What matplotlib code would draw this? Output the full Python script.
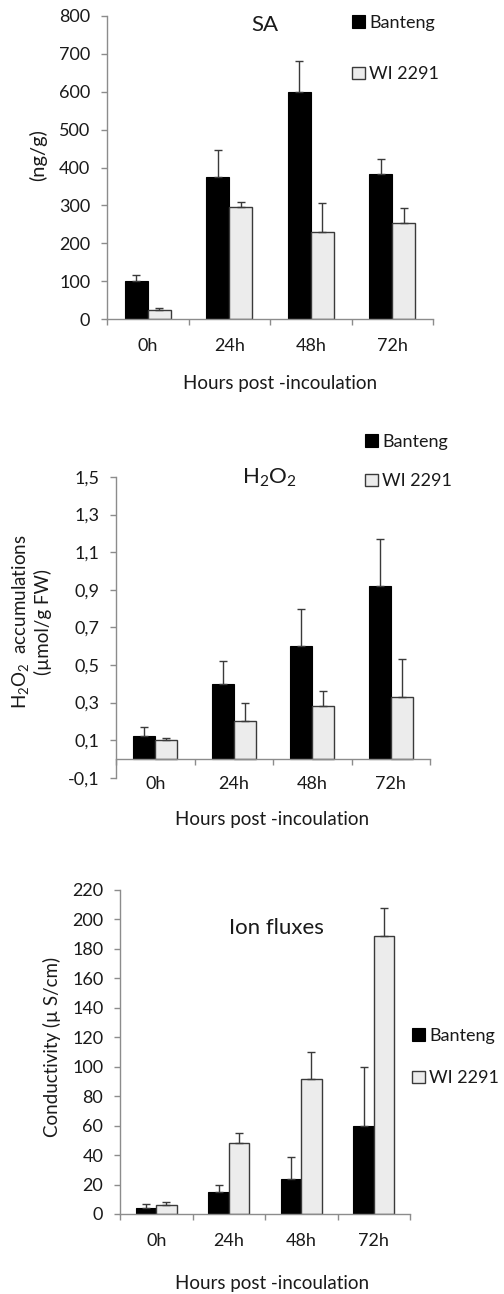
import matplotlib
matplotlib.use("Agg")
import matplotlib.pyplot as plt
from matplotlib.patches import Patch
import numpy as np

plt.rcParams['font.family'] = ['Lato', 'DejaVu Sans']
plt.rcParams['mathtext.fontset'] = 'custom'
plt.rcParams['mathtext.rm'] = 'Lato'
plt.rcParams['mathtext.it'] = 'Lato:italic'
plt.rcParams['mathtext.bf'] = 'Lato:bold'

categories = ["0h", "24h", "48h", "72h"]
series = ["Banteng", "WI 2291"]

sa_banteng = [100, 375, 600, 382]
sa_banteng_err = [17, 70, 80, 41]
sa_wi = [25, 297, 230, 253]
sa_wi_err = [5, 13, 77, 40]
sa_yticks = [0, 100, 200, 300, 400, 500, 600, 700, 800]

h2o2_banteng = [0.12, 0.40, 0.60, 0.92]
h2o2_banteng_err = [0.05, 0.12, 0.20, 0.25]
h2o2_wi = [0.10, 0.20, 0.28, 0.33]
h2o2_wi_err = [0.01, 0.10, 0.08, 0.20]
h2o2_yticks = [-0.1, 0.1, 0.3, 0.5, 0.7, 0.9, 1.1, 1.3, 1.5]
h2o2_yticklabels = ["-0,1", "0,1", "0,3", "0,5", "0,7", "0,9", "1,1", "1,3", "1,5"]

ion_banteng = [4, 15, 24, 60]
ion_banteng_err = [3, 5, 15, 40]
ion_wi = [6, 48, 92, 189]
ion_wi_err = [2, 7, 18, 19]
ion_yticks = [0, 20, 40, 60, 80, 100, 120, 140, 160, 180, 200, 220]

W, H = 504, 1294
fig = plt.figure(figsize=(W / 100, H / 100), dpi=100)

BLACK = "#000000"
LIGHT = "#ececec"
EDGE = "#3a3a3a"
AXC = "#8c8c8c"
TXT = "#1a1a1a"
FS_TICK = 13
FS_LAB = 13.5
FS_TITLE = 16
FS_LEG = 13


def px_rect(l, r, top, bot):
    return [l / W, 1 - bot / H, (r - l) / W, (bot - top) / H]


def draw_panel(rect, b, be, w, we, yticks, yticklabels, ylim, base0=False):
    ax = fig.add_axes(rect)
    x = np.arange(len(categories))
    bw = 0.28
    ax.bar(x - bw / 2, b, bw, color=BLACK, edgecolor=BLACK, linewidth=0.8, zorder=2)
    ax.bar(x + bw / 2, w, bw, color=LIGHT, edgecolor=EDGE, linewidth=1.0, zorder=2)
    ax.errorbar(x - bw / 2, b, yerr=[np.zeros(len(b)), be], fmt='none',
                ecolor=EDGE, elinewidth=1.0, capsize=2.6, capthick=1.0, zorder=3)
    ax.errorbar(x + bw / 2, w, yerr=[np.zeros(len(w)), we], fmt='none',
                ecolor=EDGE, elinewidth=1.0, capsize=2.6, capthick=1.0, zorder=3)
    ax.set_xlim(-0.5, len(categories) - 0.5)
    ax.set_ylim(*ylim)
    for s in ["top", "right"]:
        ax.spines[s].set_visible(False)
    for s in ["left", "bottom"]:
        ax.spines[s].set_color(AXC)
        ax.spines[s].set_linewidth(1.0)
    if base0:
        ax.spines["bottom"].set_position(("data", 0))
    ax.set_yticks(yticks)
    ax.set_yticklabels(yticklabels)
    ax.set_xticks(x)
    ax.set_xticklabels(categories)
    ax.set_xticks(np.arange(-0.5, len(categories)), minor=True)
    ax.tick_params(axis='x', which='major', length=0, pad=13.5 if not base0 else 12.5,
                   labelsize=FS_TICK, labelcolor=TXT)
    ax.tick_params(axis='x', which='minor', length=4, color=AXC, width=1.0, direction='out')
    ax.tick_params(axis='y', length=4, color=AXC, width=1.0, direction='out', pad=8,
                   labelsize=FS_TICK, labelcolor=TXT)
    return ax


def add_legend(ax, x0, ytop, spacing):
    handles = [Patch(facecolor=BLACK, edgecolor=BLACK, linewidth=0.8),
               Patch(facecolor=LIGHT, edgecolor=EDGE, linewidth=1.0)]
    leg = ax.legend(handles, series, loc='upper left',
                    bbox_to_anchor=(x0 / W, 1 - ytop / H), bbox_transform=fig.transFigure,
                    frameon=False, borderpad=0, borderaxespad=0, handlelength=0.7,
                    handleheight=0.7, handletextpad=0.25, labelspacing=spacing,
                    fontsize=FS_LEG)
    for t in leg.get_texts():
        t.set_color(TXT)


# Panel 1: SA
ax1 = draw_panel(px_rect(107, 433, 16, 319), sa_banteng, sa_banteng_err, sa_wi, sa_wi_err,
                 sa_yticks, [str(v) for v in sa_yticks], (0, 800))
add_legend(ax1, 352, 15, 1.95)
fig.text(265 / W, 1 - 25 / H, "SA", ha='center', va='center', fontsize=FS_TITLE, color=TXT)
fig.text(38 / W, 1 - 155 / H, "(ng/g)", ha='center', va='center', rotation=90,
         fontsize=14.5, color=TXT)
fig.text(280 / W, 1 - 383 / H, "Hours post -incoulation", ha='center', va='center',
         fontsize=FS_LAB, color=TXT)

# Panel 2: H2O2
ax2 = draw_panel(px_rect(116, 430, 477, 777.7), h2o2_banteng, h2o2_banteng_err, h2o2_wi,
                 h2o2_wi_err, h2o2_yticks, h2o2_yticklabels, (-0.1, 1.5), base0=True)
add_legend(ax2, 365, 434, 1.3)
fig.text(269 / W, 1 - 478 / H, "H$_2$O$_2$", ha='center', va='center', fontsize=FS_TITLE, color=TXT)
fig.text(31 / W, 1 - 622 / H, "H$_2$O$_2$  accumulations\n(µmol/g FW)", ha='center',
         va='center', rotation=90, fontsize=FS_LAB, color=TXT, linespacing=1.15)
fig.text(272 / W, 1 - 820 / H, "Hours post -incoulation", ha='center', va='center',
         fontsize=FS_LAB, color=TXT)

# Panel 3: Ion fluxes
ax3 = draw_panel(px_rect(120, 410, 890, 1214), ion_banteng, ion_banteng_err, ion_wi,
                 ion_wi_err, ion_yticks, [str(v) for v in ion_yticks], (0, 220))
add_legend(ax3, 412, 1028, 1.45)
fig.text(276 / W, 1 - 928 / H, "Ion fluxes", ha='center', va='center', fontsize=FS_TITLE, color=TXT)
fig.text(52 / W, 1 - 1047 / H, "Conductivity (µ S/cm)", ha='center', va='center',
         rotation=90, fontsize=FS_LAB, color=TXT)
fig.text(272 / W, 1 - 1283 / H, "Hours post -incoulation", ha='center', va='center',
         fontsize=FS_LAB, color=TXT)

fig.savefig("out.png", dpi=100, facecolor='white')
